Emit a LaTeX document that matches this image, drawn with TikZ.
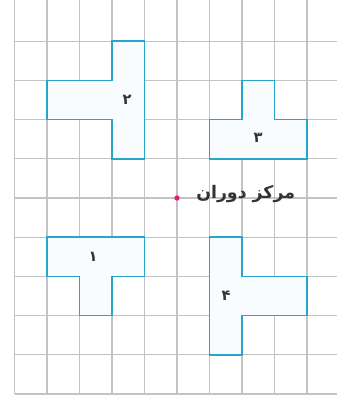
\documentclass[tikz,border=0pt]{standalone}
\usepackage{fontspec}
\newfontfamily\arabicfont[Script=Arabic]{DejaVu Sans}
\TeXXeTstate=1
\definecolor{ShapeCyan}{RGB}{40,165,205}
\definecolor{GridGray}{RGB}{195,195,195}
\definecolor{CentreMagenta}{RGB}{225,30,120}
\tikzset{
  gridline/.style={color=GridGray, line width=0.8pt},
  tileline/.style={color=ShapeCyan, line width=1.2pt, fill=ShapeCyan!3, line join=miter},
  tilelabel/.style={inner sep=0.75pt, text=black!80, font=\arabicfont\bfseries\fontsize{11}{11}\selectfont},
  centredot/.style={circle, fill=CentreMagenta, inner sep=0pt, minimum size=4pt}
}

\begin{document}
\begin{tikzpicture}[x=0.75pt,y=0.75pt,yscale=-1,xscale=1]
\path[use as bounding box] (0,0) rectangle (337,397);

%Grid: vertical lines
\foreach \i in {0,...,9}
  \draw[gridline] ({14.5+32.5*\i},0) -- ({14.5+32.5*\i},394);
%Grid: horizontal lines
\foreach \j in {0,...,9}
  \draw[gridline] (14.5,{41.2+39.2*\j}) -- (337,{41.2+39.2*\j});

%Shape: tile 2
\draw[tileline] (112,41.2) -- (144.5,41.2) -- (144.5,158.8) -- (112,158.8) -- (112,119.6) -- (47,119.6) -- (47,80.4) -- (112,80.4) -- cycle;
%Shape: tile 3
\draw[tileline] (242,80.4) -- (274.5,80.4) -- (274.5,119.6) -- (307,119.6) -- (307,158.8) -- (209.5,158.8) -- (209.5,119.6) -- (242,119.6) -- cycle;
%Shape: tile 1
\draw[tileline] (47,237.2) -- (144.5,237.2) -- (144.5,276.4) -- (112,276.4) -- (112,315.6) -- (79.5,315.6) -- (79.5,276.4) -- (47,276.4) -- cycle;
%Shape: tile 4
\draw[tileline] (209.5,237.2) -- (242,237.2) -- (242,276.4) -- (307,276.4) -- (307,315.6) -- (242,315.6) -- (242,354.8) -- (209.5,354.8) -- cycle;

% Text Node
\node[tilelabel] (label2) at (127,100) {۲};
% Text Node
\node[tilelabel] (label3) at (258,138) {۳};
% Text Node
\node[tilelabel] (label1) at (93,257) {۱};
% Text Node
\node[tilelabel] (label4) at (226,296) {۴};

%Centre of rotation
\node[centredot] (centre) at (177,198) {};
% Text Node
\node[anchor=west, inner sep=0.75pt, text=black!80, font=\arabicfont\bfseries\fontsize{13}{14}\selectfont] (centrelabel) at (195,194) {\beginR مرکز دوران\endR};

\end{tikzpicture}
\end{document}
